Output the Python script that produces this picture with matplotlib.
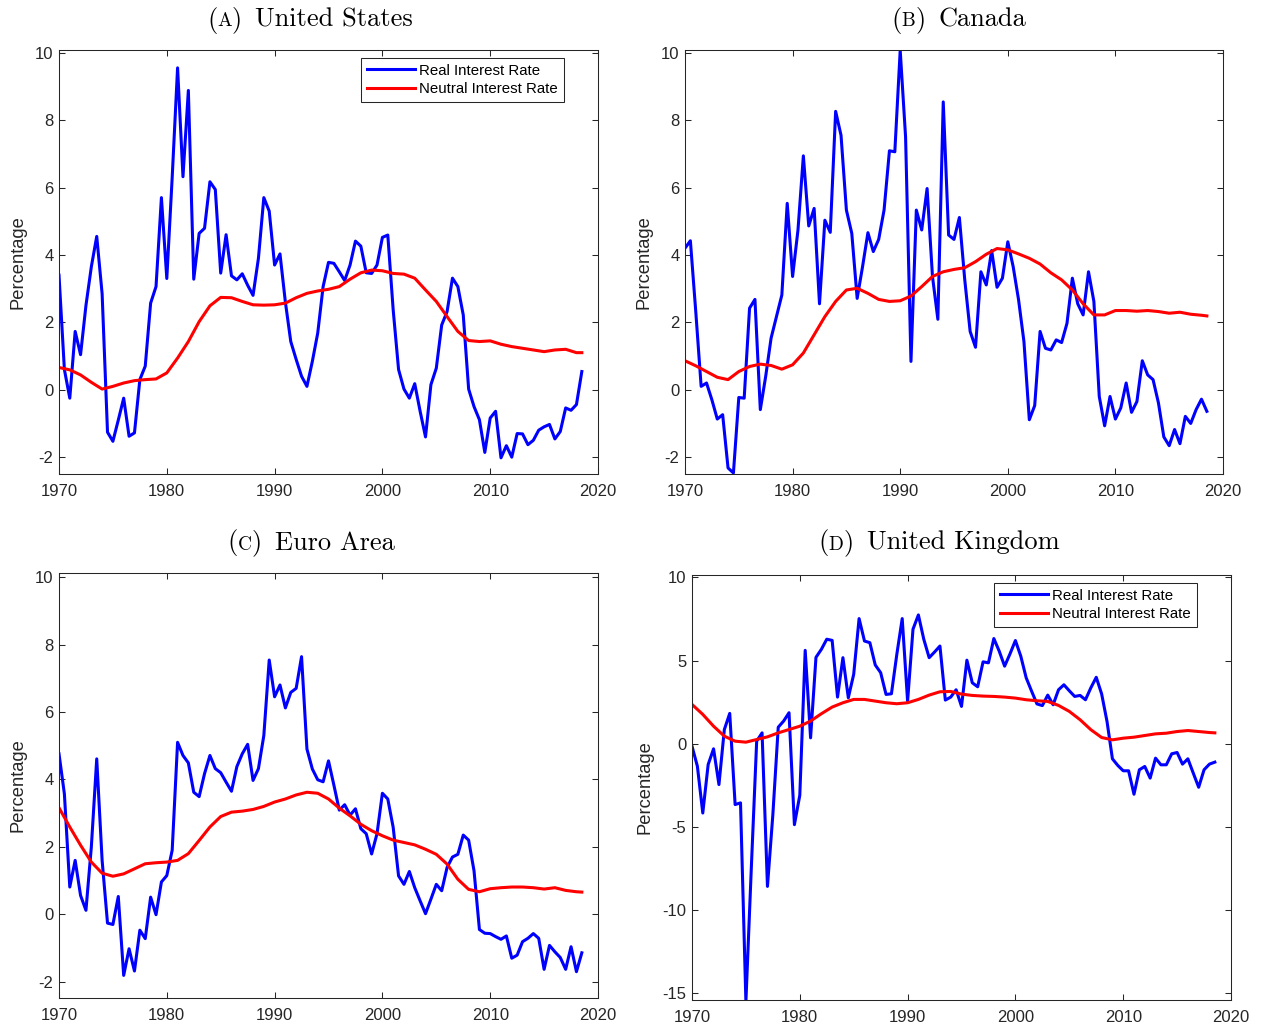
import numpy as np
import matplotlib
matplotlib.use('Agg')
import matplotlib.pyplot as plt
from matplotlib.offsetbox import TextArea, HPacker, AnchoredOffsetbox

half_years = np.arange(1970, 2019, 0.5)
years = np.append(np.arange(1970, 2019), 2018.5)

# (A) United States
us_real = [3.4, 0.6, -0.25, 1.73, 1.04, 2.5, 3.65, 4.55, 2.85, -1.26,
           -1.53, -0.9, -0.25, -1.38, -1.28, 0.3, 0.7, 2.57, 3.06, 5.7,
           3.3, 6.3, 9.55, 6.32, 8.88, 3.28, 4.64, 4.79, 6.17, 5.94,
           3.46, 4.6, 3.38, 3.26, 3.44, 3.1, 2.8, 3.9, 5.7, 5.3,
           3.7, 4.03, 2.6, 1.43, 0.9, 0.4, 0.1, 0.84, 1.68, 3.06,
           3.78, 3.75, 3.5, 3.24, 3.7, 4.41, 4.26, 3.47, 3.45, 3.7,
           4.52, 4.59, 2.37, 0.6, 0.02, -0.25, 0.18, -0.64, -1.4, 0.15,
           0.64, 1.92, 2.32, 3.31, 3.06, 2.22, 0.02, -0.5, -0.89, -1.86,
           -0.84, -0.64, -2.02, -1.66, -2.0, -1.3, -1.31, -1.63, -1.5, -1.2,
           -1.1, -1.03, -1.46, -1.24, -0.54, -0.61, -0.44, 0.54]
us_neutral = [0.66, 0.59, 0.44, 0.22, 0.02, 0.1, 0.2, 0.27, 0.3, 0.32,
              0.5, 0.94, 1.43, 2.02, 2.49, 2.74, 2.73, 2.62, 2.52, 2.51,
              2.52, 2.57, 2.73, 2.86, 2.93, 2.98, 3.06, 3.28, 3.47, 3.55,
              3.53, 3.45, 3.43, 3.31, 2.96, 2.62, 2.17, 1.73, 1.46, 1.43,
              1.45, 1.35, 1.28, 1.23, 1.18, 1.13, 1.18, 1.2, 1.1, 1.1]

# (B) Canada
ca_real = [4.2, 4.42, 2.32, 0.1, 0.2, -0.3, -0.87, -0.74, -2.32, -2.47,
           -0.23, -0.25, 2.42, 2.68, -0.59, 0.4, 1.53, 2.17, 2.81, 5.53,
           3.36, 4.74, 6.94, 4.86, 5.38, 2.55, 5.03, 4.67, 8.26, 7.55,
           5.33, 4.64, 2.71, 3.65, 4.66, 4.1, 4.46, 5.33, 7.09, 7.06,
           10.07, 7.5, 0.84, 5.33, 4.74, 5.97, 3.36, 2.09, 8.54, 4.59,
           4.46, 5.11, 3.26, 1.73, 1.26, 3.5, 3.11, 4.13, 3.04, 3.31,
           4.39, 3.65, 2.67, 1.43, -0.89, -0.47, 1.73, 1.23, 1.18, 1.48,
           1.4, 1.97, 3.31, 2.55, 2.22, 3.5, 2.62, -0.2, -1.07, -0.2,
           -0.87, -0.54, 0.2, -0.67, -0.35, 0.86, 0.44, 0.3, -0.39, -1.4,
           -1.66, -1.18, -1.6, -0.79, -1.0, -0.59, -0.28, -0.64]
ca_neutral = [0.86, 0.71, 0.54, 0.37, 0.3, 0.54, 0.69, 0.76, 0.72, 0.61,
              0.74, 1.09, 1.63, 2.17, 2.62, 2.96, 3.01, 2.86, 2.68, 2.62,
              2.64, 2.78, 3.06, 3.36, 3.5, 3.57, 3.62, 3.8, 4.02, 4.19,
              4.15, 4.03, 3.9, 3.73, 3.47, 3.26, 2.96, 2.55, 2.22, 2.22,
              2.35, 2.35, 2.33, 2.35, 2.32, 2.27, 2.3, 2.24, 2.21, 2.19]

# (C) Euro Area
ea_real = [4.76, 3.57, 0.81, 1.6, 0.56, 0.12, 2.0, 4.61, 1.6, -0.26,
           -0.3, 0.53, -1.81, -1.02, -1.68, -0.47, -0.72, 0.51, -0.01, 0.96,
           1.15, 1.9, 5.1, 4.71, 4.49, 3.62, 3.49, 4.17, 4.71, 4.32,
           4.2, 3.92, 3.65, 4.38, 4.76, 5.04, 3.97, 4.32, 5.3, 7.54,
           6.45, 6.8, 6.12, 6.58, 6.7, 7.64, 4.9, 4.31, 3.99, 3.93,
           4.55, 3.83, 3.09, 3.25, 2.94, 3.13, 2.54, 2.39, 1.79, 2.39,
           3.59, 3.42, 2.58, 1.14, 0.89, 1.27, 0.79, 0.4, 0.02, 0.45,
           0.89, 0.7, 1.39, 1.7, 1.78, 2.35, 2.2, 1.29, -0.45, -0.56,
           -0.57, -0.66, -0.74, -0.64, -1.3, -1.21, -0.81, -0.71, -0.57, -0.71,
           -1.63, -0.92, -1.11, -1.28, -1.63, -0.96, -1.7, -1.14]
ea_neutral = [3.16, 2.59, 2.05, 1.55, 1.22, 1.13, 1.2, 1.35, 1.5, 1.53,
              1.55, 1.6, 1.8, 2.19, 2.59, 2.9, 3.03, 3.06, 3.11, 3.2,
              3.33, 3.42, 3.54, 3.62, 3.59, 3.42, 3.15, 2.92, 2.67, 2.48,
              2.33, 2.2, 2.13, 2.06, 1.93, 1.78, 1.49, 1.04, 0.74, 0.67,
              0.76, 0.79, 0.81, 0.81, 0.79, 0.75, 0.79, 0.71, 0.67, 0.66]

# (D) United Kingdom
uk_real = [-0.14, -1.35, -4.16, -1.24, -0.3, -2.45, 0.86, 1.83, -3.65, -3.55,
           -15.5, -7.5, 0.16, 0.66, -8.57, -4.26, 1.0, 1.37, 1.87, -4.86,
           -3.09, 5.62, 0.36, 5.2, 5.68, 6.29, 6.22, 2.81, 5.18, 2.77,
           4.18, 7.53, 6.18, 6.08, 4.74, 4.28, 2.97, 3.01, 5.38, 7.53,
           2.57, 6.89, 7.75, 6.29, 5.18, 5.52, 5.88, 2.63, 2.81, 3.25,
           2.25, 5.03, 3.67, 3.43, 4.93, 4.87, 6.33, 5.57, 4.67, 5.41,
           6.21, 5.27, 3.97, 3.17, 2.4, 2.3, 2.93, 2.35, 3.25, 3.55,
           3.19, 2.85, 2.91, 2.65, 3.37, 4.0, 3.0, 1.34, -0.9, -1.3,
           -1.62, -1.62, -3.03, -1.56, -1.36, -2.06, -0.86, -1.26, -1.26, -0.6,
           -0.52, -1.22, -0.9, -1.76, -2.61, -1.56, -1.22, -1.1]
uk_neutral = [2.37, 1.77, 1.06, 0.46, 0.16, 0.1, 0.26, 0.42, 0.66, 0.86,
              1.06, 1.37, 1.81, 2.21, 2.47, 2.67, 2.67, 2.57, 2.47, 2.41,
              2.47, 2.67, 2.93, 3.13, 3.15, 2.99, 2.91, 2.87, 2.85, 2.81,
              2.75, 2.65, 2.59, 2.55, 2.31, 1.95, 1.45, 0.85, 0.38, 0.24,
              0.34, 0.4, 0.5, 0.6, 0.64, 0.74, 0.8, 0.74, 0.68, 0.66]

plt.rcParams['font.family'] = 'Liberation Sans'
plt.rcParams['axes.unicode_minus'] = False

W, H = 1261, 1030
fig = plt.figure(figsize=(W / 100, H / 100), dpi=100)
dark = '#262626'


def px_rect(left, top, right, bottom):
    # pixel box -> figure fraction
    return [left / W, 1 - bottom / H, (right - left) / W, (bottom - top) / H]


def panel_title(letter, name, xc, yc):
    # small caps letter like the LaTeX subcaption
    tag = HPacker(children=[TextArea('(', textprops=dict(family='cmr10', size=19)),
                            TextArea(letter, textprops=dict(family='cmr10', size=14)),
                            TextArea(')', textprops=dict(family='cmr10', size=19))],
                  align='baseline', pad=0, sep=0)
    box = HPacker(children=[tag, TextArea(name, textprops=dict(family='cmr10', size=19))],
                  align='baseline', pad=0, sep=9.5)
    anch = AnchoredOffsetbox(loc='center', child=box, pad=0, borderpad=0,
                             frameon=False, bbox_to_anchor=(xc / W, 1 - yc / H),
                             bbox_transform=fig.transFigure)
    fig.add_artist(anch)


def draw_panel(rect, real, neutral, ylim, yticks, ylab_x, legend=False):
    ax = fig.add_axes(rect)
    ax.plot(half_years, real, color='#0000ff', lw=2.2, label='Real Interest Rate')
    ax.plot(years, neutral, color='#ff0000', lw=2.2, label='Neutral Interest Rate')
    ax.set_xlim(1970, 2020)
    ax.set_ylim(*ylim)
    ax.set_xticks(np.arange(1970, 2021, 10))
    ax.set_yticks(yticks)
    ax.tick_params(direction='in', top=True, right=True, length=4.5, width=0.75,
                   colors=dark, labelsize=12)
    ax.tick_params(axis='x', pad=7)
    ax.tick_params(axis='y', pad=4)
    for s in ax.spines.values():
        s.set_color(dark)
        s.set_linewidth(0.75)
    ax.set_ylabel('Percentage', fontsize=13.2, color=dark)
    ax.yaxis.set_label_coords(ylab_x, 0.5)
    if legend:
        leg = ax.legend(loc='upper right', bbox_to_anchor=(0.937, 0.982),
                        borderaxespad=0, fancybox=False, framealpha=1,
                        edgecolor=dark, fontsize=10.8, handlelength=3.2,
                        handletextpad=0.3, borderpad=0.4, labelspacing=0.3)
        leg.get_frame().set_linewidth(0.75)
    return ax


ticks_small = np.arange(-2, 11, 2)
draw_panel(px_rect(59, 50, 598, 474), us_real, us_neutral, (-2.5, 10.08),
           ticks_small, -0.061, legend=True)
draw_panel(px_rect(685, 50, 1223, 474), ca_real, ca_neutral, (-2.5, 10.08),
           ticks_small, -0.061)
draw_panel(px_rect(59, 573, 598, 998), ea_real, ea_neutral, (-2.48, 10.12),
           ticks_small, -0.061)
draw_panel(px_rect(692, 575, 1231, 1000), uk_real, uk_neutral, (-15.4, 10.15),
           np.arange(-15, 11, 5), -0.072, legend=True)

panel_title('A', 'United States', 310, 20)
panel_title('B', 'Canada', 959, 20)
panel_title('C', 'Euro Area', 311, 543)
panel_title('D', 'United Kingdom', 939, 543)

fig.savefig('out.png', dpi=100)
